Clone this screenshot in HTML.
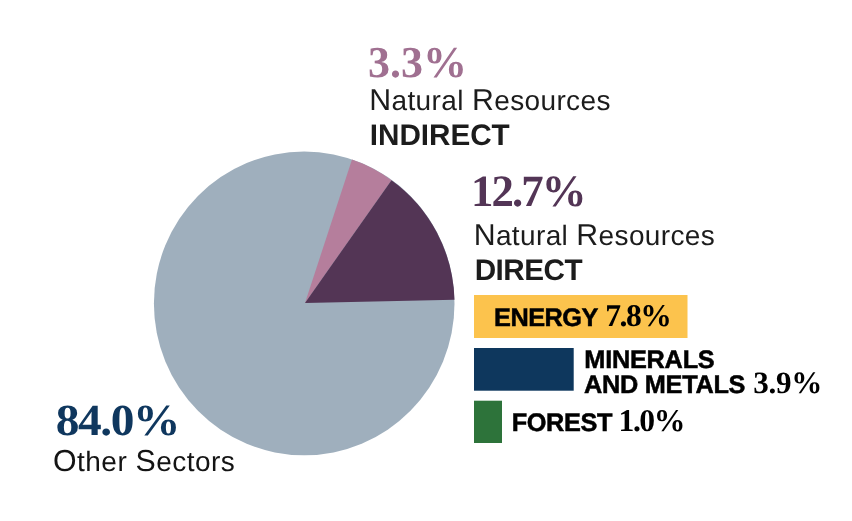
<!DOCTYPE html>
<html>
<head>
<meta charset="utf-8">
<style>
html,body{margin:0;padding:0;background:#fff;}
body{width:852px;height:521px;overflow:hidden;}
svg{display:block;}
.sv{font-family:"Liberation Serif",serif;font-weight:700;}
.sn{font-family:"Liberation Sans",sans-serif;}
.b{font-weight:700;}
</style>
</head>
<body>
<svg width="852" height="521" viewBox="0 0 852 521" style="text-rendering:geometricPrecision">
<ellipse cx="304.2" cy="303.4" rx="150.3" ry="151.9" fill="#9fafbd"/>
<path d="M305 302.9 L352 159.6 A150.3 151.9 0 0 1 391.5 180.2 Z" fill="#b57e9c"/>
<path d="M305 302.9 L391.5 180.2 A150.3 151.9 0 0 1 454.5 299.8 Z" fill="#533555"/>
<rect x="474" y="295" width="213.5" height="43" fill="#fcc34d"/>
<rect x="474" y="348" width="99.7" height="42.7" fill="#0e375d"/>
<rect x="474" y="400.7" width="28" height="42.3" fill="#2d733a"/>
<text class="sv" transform="translate(368.07 77)" font-size="44" letter-spacing="-0.057" fill="#a07091">3.3%</text>
<text class="sn" transform="translate(369.23 110)" font-size="28" letter-spacing="0.372" fill="#1c1c1c"><tspan font-size="30.3">N</tspan>atural <tspan font-size="30.3">R</tspan>esources</text>
<text class="sn b" transform="translate(369.83 145)" font-size="29.7" letter-spacing="-0.053" fill="#1c1c1c">INDIRECT</text>
<text class="sv" transform="translate(470.92 206)" font-size="44.8" letter-spacing="-1.908" fill="#533556">12.7%</text>
<text class="sn" transform="translate(473.67 245)" font-size="28" letter-spacing="0.369" fill="#1c1c1c"><tspan font-size="30.3">N</tspan>atural <tspan font-size="30.3">R</tspan>esources</text>
<text class="sn b" transform="translate(474.64 280)" font-size="29.7" letter-spacing="-0.511" fill="#1c1c1c">DIRECT</text>
<text class="sn b" transform="translate(494.02 326)" font-size="25.3" letter-spacing="-0.495" fill="#000" stroke="#000" stroke-width="0.5">ENERGY</text>
<text class="sv" transform="translate(605.19 326)" font-size="31.6" letter-spacing="-1.437" fill="#000">7.8%</text>
<text class="sn b" transform="translate(584.33 368)" font-size="25.3" letter-spacing="-0.245" fill="#000" stroke="#000" stroke-width="0.5">MINERALS</text>
<text class="sn b" transform="translate(584.09 393)" font-size="25.3" letter-spacing="-0.288" fill="#000" stroke="#000" stroke-width="0.5">AND METALS</text>
<text class="sv" transform="translate(753.20 393)" font-size="31.1" letter-spacing="-0.255" fill="#000">3.9%</text>
<text class="sn b" transform="translate(511.75 431)" font-size="25.3" letter-spacing="-0.391" fill="#000" stroke="#000" stroke-width="0.5">FOREST</text>
<text class="sv" transform="translate(618.62 431)" font-size="31.7" letter-spacing="-1.529" fill="#000">1.0%</text>
<text class="sv" transform="translate(55.71 435) scale(1.07 1.0)" font-size="44.3" letter-spacing="-1.310" fill="#0f375e">84.0%</text>
<text class="sn" transform="translate(53.00 471)" font-size="28" letter-spacing="0.475" fill="#141414"><tspan font-size="30.3">O</tspan>ther <tspan font-size="30.3">S</tspan>ectors</text>
</svg>
</body>
</html>
